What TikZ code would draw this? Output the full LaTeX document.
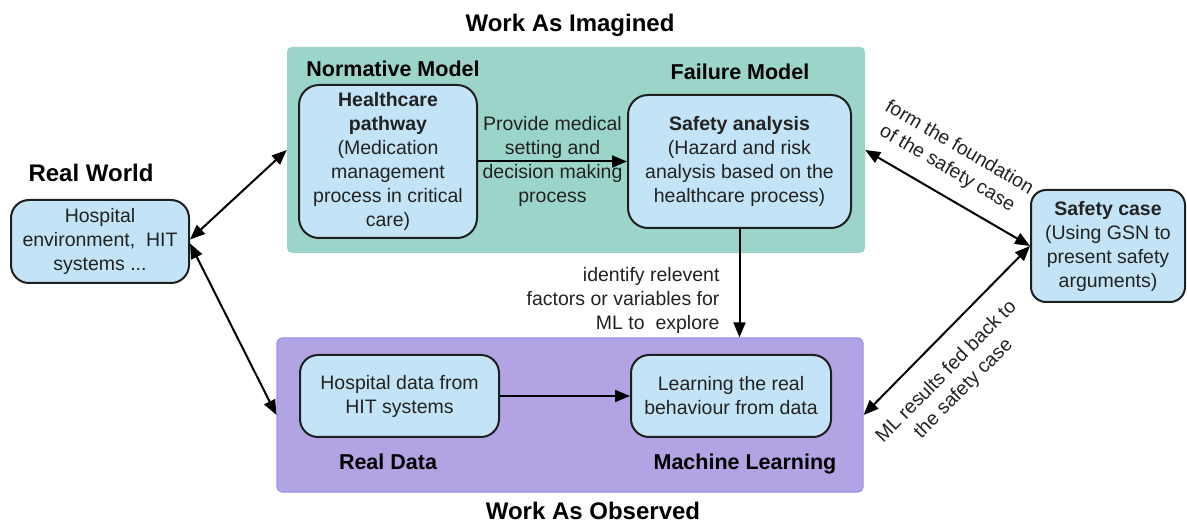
\documentclass[tikz,border=0pt]{standalone}
\usepackage{fontspec}
\setmainfont{Liberation Sans}
\usetikzlibrary{arrows.meta}
\definecolor{tealbg}{HTML}{9BD5C9}
\definecolor{purplebg}{HTML}{B2A4E4}
\definecolor{purpleedge}{HTML}{9C92EC}
\definecolor{boxblue}{HTML}{C3E4F6}
\definecolor{txt}{HTML}{222222}
\newcommand\txtfnt{\fontsize{19.5}{24}\selectfont}
\newcommand\grpfnt{\fontsize{21.5}{26}\selectfont\bfseries}
\newcommand\headfnt{\fontsize{24}{28}\selectfont\bfseries}
\tikzset{
  region/.style={rounded corners=5pt, inner sep=0pt},
  innerbox/.style={draw=black!88, line width=2pt, fill=boxblue, rounded corners=18pt,
    align=center, inner sep=0pt, text=txt, font=\txtfnt},
  grplabel/.style={font=\grpfnt, text=black, inner sep=0pt, anchor=base},
  headlabel/.style={font=\headfnt, text=black, inner sep=0pt, anchor=base},
  lbl/.style={font=\txtfnt, text=txt, align=center, inner sep=0pt},
  tip/.tip={Triangle[length=15pt,width=12pt]},
  arr/.style={line width=2pt, -tip},
  darr/.style={line width=2pt, tip-tip},
}
\begin{document}
\begin{tikzpicture}[x=1pt,y=-1pt]
\useasboundingbox (0,0) rectangle (1187,521);
% regions
\node[region, fill=tealbg, minimum width=578pt, minimum height=206pt] (wai) at (576,150) {};
\node[region, fill=purplebg, draw=purpleedge, line width=1.2pt, minimum width=586pt, minimum height=154pt] (wao) at (570,415) {};
% headings
\node[headlabel] (hwai) at (570,31.5) {Work As Imagined};
\node[headlabel] (hwao) at (593,519) {Work As Observed};
\node[headlabel] (hrw) at (91,181.5) {Real World};
\node[grplabel] (gnm) at (393,77) {Normative Model};
\node[grplabel] (gfm) at (740,80) {Failure Model};
\node[grplabel] (grd) at (388,469) {Real Data};
\node[grplabel] (gml) at (745,469) {Machine Learning};
% inner boxes
\node[innerbox, minimum width=178pt, minimum height=153pt, rounded corners=20pt] (hc) at (388,161.5)
  {\textbf{Healthcare}\\\textbf{pathway}\\(Medication\\management\\process in critical\\care)};
\node[innerbox, minimum width=223pt, minimum height=133pt, rounded corners=20pt] (sa) at (739.5,161.5)
  {\textbf{Safety analysis}\\(Hazard and risk\\analysis based on the\\healthcare process)};
\node[innerbox, minimum width=178pt, minimum height=83pt] (hosp) at (100,241.5)
  {Hospital\\environment,\ \ HIT\\systems ...};
\node[innerbox, minimum width=199pt, minimum height=82pt] (hd) at (399.5,396)
  {Hospital data from\\HIT systems};
\node[innerbox, minimum width=200pt, minimum height=82pt] (ml) at (731,396)
  {Learning the real\\behaviour from data};
\node[innerbox, minimum width=154pt, minimum height=112pt, rounded corners=15pt] (sc) at (1108,246)
  {\textbf{Safety case}\\(Using GSN to\\present safety\\arguments)};
% connectors
\draw[arr] (hc.east) -- (sa.west) node[lbl, midway] {Provide medical\\setting and\\decision making\\process};
\draw[arr] (hd.east) -- (ml.west);
\draw[arr] (sa.south) -- (sa.south |- wao.north)
  node[lbl, pos=0.66, anchor=east, align=right, xshift=-19pt] {identify relevent\\factors or variables for\\ML to\ \ explore};
\draw[darr] ([yshift=2pt]hosp.east) -- (wai.west);
\draw[darr] ([yshift=-2pt]hosp.east) -- (wao.west);
\draw[darr] (wai.east) -- (sc.west)
  node[lbl, pos=0.42, sloped, anchor=center, yshift=37pt] {form the foundation\\of the safety case};
\draw[darr] (wao.east) -- (sc.west)
  node[lbl, pos=0.375, sloped, anchor=center, yshift=-41pt] {ML results fed back to\\the safety case};
\end{tikzpicture}
\end{document}
